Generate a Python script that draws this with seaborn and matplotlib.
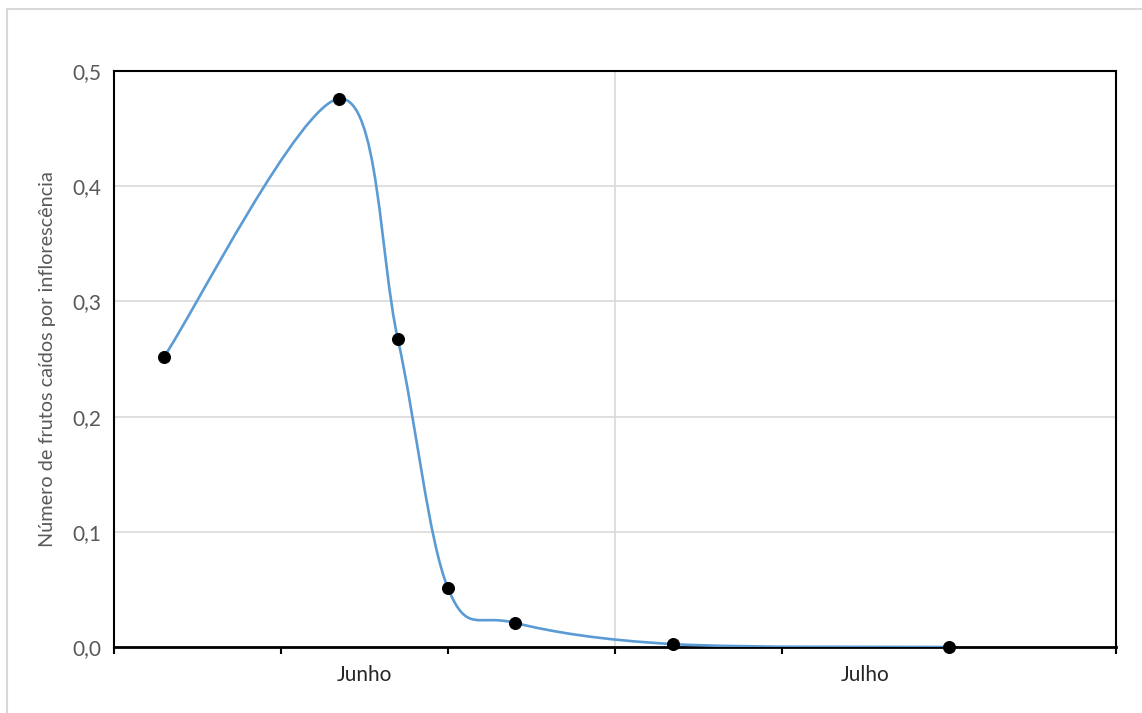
import numpy as np
import pandas as pd
import matplotlib
matplotlib.use("Agg")
import matplotlib.pyplot as plt
import seaborn as sns
from matplotlib.path import Path
from matplotlib.patches import PathPatch, Rectangle
from matplotlib.ticker import FuncFormatter, MultipleLocator, FixedLocator

# ----------------------------------------------------------
# DADOS
# ----------------------------------------------------------

dias = [3, 13.5, 17, 20, 24, 33.5, 50]
frutos = [0.252, 0.476, 0.267, 0.051, 0.021, 0.0025, 0.0]

meses = ["Junho", "Julho"]
pos_meses = [15, 45]

df = pd.DataFrame({"dia": dias, "frutos": frutos})

# ----------------------------------------------------------
# ESTILO
# ----------------------------------------------------------

sns.set_style("white")
plt.rcParams["font.family"] = ["Lato", "DejaVu Sans"]

fig = plt.figure(figsize=(11.42, 7.13), dpi=100)
ax = fig.add_axes([114 / 1142, 1 - 647 / 713, 1002 / 1142, 576 / 713])

# moldura externa do gráfico
fig.patches.append(Rectangle((7 / 1142, -0.05), 1.2, 1 - 9 / 713 + 0.05,
                             transform=fig.transFigure, fill=False,
                             edgecolor="#d9d9d9", linewidth=1.5, zorder=0))

# ----------------------------------------------------------
# LINHA SUAVIZADA (bezier tipo Excel)
# ----------------------------------------------------------

pts = df[["dia", "frutos"]].to_numpy()
ext = np.vstack([pts[0], pts, pts[-1]])
verts = [tuple(pts[0])]
codes = [Path.MOVETO]
for i in range(1, len(ext) - 2):
    p0, p1, p2, p3 = ext[i - 1], ext[i], ext[i + 1], ext[i + 2]
    c1 = p1 + (p2 - p0) / 6
    c2 = p2 - (p3 - p1) / 6
    verts += [tuple(c1), tuple(c2), tuple(p2)]
    codes += [Path.CURVE4] * 3

ax.add_patch(PathPatch(Path(verts, codes), facecolor="none",
                       edgecolor="#5b9bd5", linewidth=1.9, zorder=3))

sns.scatterplot(data=df, x="dia", y="frutos", ax=ax, color="black",
                s=75, edgecolor="black", zorder=4, clip_on=False)

# ----------------------------------------------------------
# EIXOS
# ----------------------------------------------------------

ax.set_xlim(0, 60)
ax.set_ylim(0, 0.5)

ax.yaxis.set_major_locator(MultipleLocator(0.1))
ax.yaxis.set_major_formatter(FuncFormatter(lambda v, p: f"{v:.1f}".replace(".", ",")))
ax.grid(axis="y", color="#d9d9d9", linewidth=1.2)
ax.axvline(30, color="#d9d9d9", linewidth=1.2, zorder=0)

ax.xaxis.set_major_locator(FixedLocator([0, 10, 20, 30, 40, 50, 60]))
ax.set_xticklabels([""] * 7)
ax.tick_params(axis="x", length=5, width=1.5, color="black", direction="out", bottom=True)
ax.tick_params(axis="y", length=0, labelsize=15, labelcolor="#595959", pad=9)

for x, m in zip(pos_meses, meses):
    ax.text(x, -0.016, m, ha="center", va="top", fontsize=15, color="#262626")

for lado, sp in ax.spines.items():
    sp.set_color("black")
    sp.set_linewidth(1.5)
ax.spines["bottom"].set_linewidth(2)

ax.set_xlabel("")
ax.set_ylabel("Número de frutos caídos por inflorescência", fontsize=14.3,
              color="#595959", labelpad=12)

fig.savefig("out.png", dpi=100)
